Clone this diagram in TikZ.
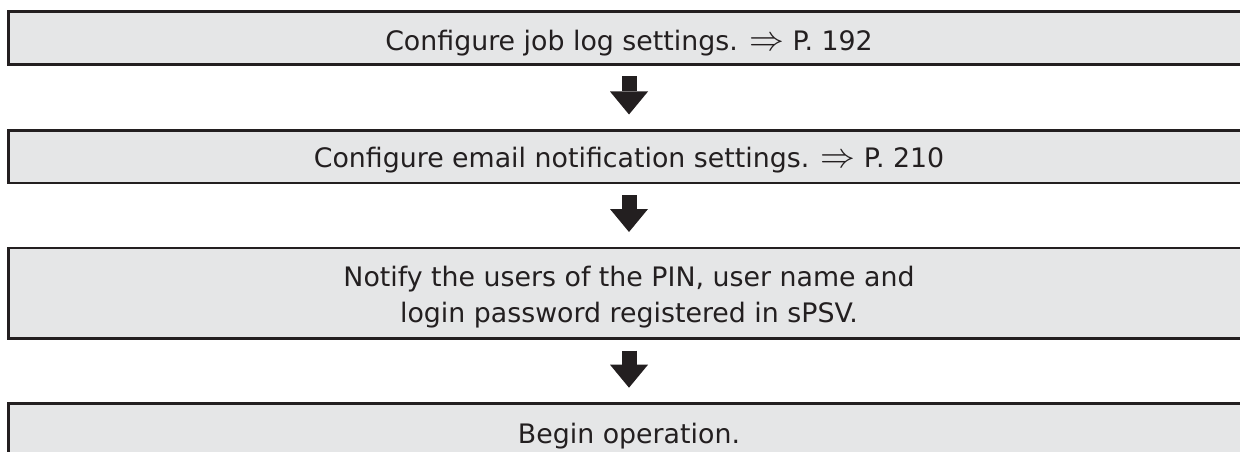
\documentclass[tikz,border=0pt]{standalone}
\usepackage{fontspec}
\usepackage{graphicx}
\setmainfont{DejaVu Sans}
\usetikzlibrary{arrows.meta}
\definecolor{ink}{HTML}{231F20}
\definecolor{boxfill}{HTML}{E5E6E7}
\newcommand{\gotoarrow}{\scalebox{1.4}{$\Rightarrow$}}
\begin{document}
\begin{tikzpicture}[x=1pt,y=-1pt,
  stepbox/.style={draw=ink, line width=2.8pt, fill=boxfill, minimum width=1240.6pt,
    inner sep=0pt, outer sep=0pt, anchor=north},
  lbl/.style={text=ink, font=\fontsize{26.8pt}{36pt}\selectfont, inner sep=0pt,
    anchor=base, align=center},
  flow/.style={draw=ink, line width=15pt, shorten <=12pt, shorten >=16pt,
    -{Triangle[width=38pt,length=23pt,line width=0pt]}}]
\useasboundingbox (0,0) rectangle (1240,452);
\clip (0,0) rectangle (1240,452);
\node[stepbox, minimum height=53pt]   (b1) at (629,11.3) {};
\node[stepbox, minimum height=52.5pt] (b2) at (629,130.5) {};
\node[stepbox, minimum height=90.7pt] (b3) at (629,248) {};
\node[stepbox, minimum height=53pt]   (b4) at (629,403.7) {};
\node[lbl] (t1) at ([yshift=-13pt]b1.center) {Configure job log settings. \gotoarrow{} P. 192};
\node[lbl] (t2) at ([yshift=-10.5pt]b2.center) {Configure email notification settings. \gotoarrow{} P. 210};
\node[lbl] (t3) at ([yshift=-29.3pt]b3.center) {Notify the users of the PIN, user name and\\login password registered in sPSV.};
\node[lbl] (t4) at ([yshift=-13pt]b4.center) {Begin operation.};
\draw[flow] (b1.south) -- (b2.north);
\draw[flow] (b2.south) -- (b3.north);
\draw[flow] (b3.south) -- (b4.north);
\end{tikzpicture}
\end{document}
